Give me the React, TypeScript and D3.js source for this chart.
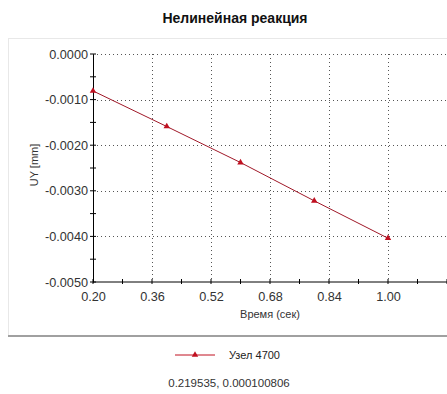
import React, { useEffect, useRef } from "react";
import * as d3 from "d3";

const times = [0.2, 0.4, 0.6, 0.8, 1.0];
const uy = [-0.00081, -0.00159, -0.00238, -0.00322, -0.00404];
const xTicks = [0.2, 0.36, 0.52, 0.68, 0.84, 1.0];
const yTicks = [0, -0.001, -0.002, -0.003, -0.004, -0.005];
const seriesName = "Узел 4700";
const cursorText = "0.219535, 0.000100806";

const W = 447;
const H = 394;

export default function App() {
  const ref = useRef<SVGSVGElement>(null);

  useEffect(() => {
    const svg = d3.select(ref.current);
    svg.selectAll("*").remove();
    const font = "'Liberation Sans', Arial, sans-serif";
    const fmt4 = (d: number) => d3.format(".4f")(d).replace("\u2212", "-");

    svg.append("rect").attr("width", W).attr("height", H).attr("fill", "#fff");

    // panel
    svg.append("rect").attr("x", 8.5).attr("y", 38.5).attr("width", W).attr("height", 297)
      .attr("fill", "#fff").attr("stroke", "#e8e8e8");
    svg.append("line").attr("x1", 8).attr("x2", W).attr("y1", 336).attr("y2", 336)
      .attr("stroke", "#a0a0a0").attr("stroke-width", 2);

    svg.append("text").attr("x", 235).attr("y", 23).attr("text-anchor", "middle")
      .style("font-family", font).style("font-size", "14px").style("font-weight", "bold")
      .attr("fill", "#111").text("Нелинейная реакция");

    const x = d3.scaleLinear().domain([0.2, 1.0]).range([93, 388]);
    const y = d3.scaleLinear().domain([-0.005, 0]).range([282, 54]);

    const g = svg.append("g");

    // grid
    const xGrid = [...xTicks, 1.16];
    g.selectAll(".vg").data(xGrid.slice(1)).join("line")
      .attr("x1", d => Math.round(x(d)) + 0.5).attr("x2", d => Math.round(x(d)) + 0.5)
      .attr("y1", y(0)).attr("y2", y(-0.005))
      .attr("stroke", "#555").attr("stroke-dasharray", "1,3");
    g.selectAll(".hg").data(yTicks.slice(0, 5)).join("line")
      .attr("x1", x(0.2)).attr("x2", W)
      .attr("y1", d => Math.round(y(d)) + 0.5).attr("y2", d => Math.round(y(d)) + 0.5)
      .attr("stroke", "#555").attr("stroke-dasharray", "1,3");

    // axes
    const xAxis = g.append("g").attr("transform", `translate(0,${y(-0.005)})`)
      .call(d3.axisBottom(x).tickValues(xTicks).tickFormat(d3.format(".2f")).tickSize(0).tickPadding(10));
    xAxis.select(".domain").remove();
    g.append("line").attr("x1", x(0.2)).attr("x2", W).attr("y1", y(-0.005)).attr("y2", y(-0.005))
      .attr("stroke", "#000");
    const xMinor = d3.range(0, 13).map(i => 0.2 + i * 0.08);
    g.selectAll(".xt").data(xMinor).join("line")
      .attr("x1", d => x(d)).attr("x2", d => x(d))
      .attr("y1", y(-0.005) - 3).attr("y2", y(-0.005) + 2).attr("stroke", "#000");

    const yAxis = g.append("g").attr("transform", `translate(${x(0.2)},0)`)
      .call(d3.axisLeft(y).tickValues(yTicks).tickFormat(fmt4).tickSize(0).tickPadding(5));
    yAxis.select(".domain").attr("stroke", "#000");
    const yMinor = d3.range(0, 11).map(i => -i * 0.0005);
    g.selectAll(".yt").data(yMinor).join("line")
      .attr("x1", x(0.2) - 3).attr("x2", x(0.2) + 3)
      .attr("y1", d => y(d)).attr("y2", d => y(d)).attr("stroke", "#000");

    g.selectAll(".tick text").style("font-family", font).style("font-size", "12.7px").attr("fill", "#333");

    svg.append("text").attr("transform", `translate(38,165) rotate(-90)`).attr("text-anchor", "middle")
      .style("font-family", font).style("font-size", "11px").attr("fill", "#333").text("UY [mm]");
    svg.append("text").attr("x", 270).attr("y", 318).attr("text-anchor", "middle")
      .style("font-family", font).style("font-size", "11px").attr("fill", "#333").text("Время (сек)");

    // series
    const pts = times.map((t, i) => [t, uy[i]] as [number, number]);
    g.append("path").datum(pts)
      .attr("d", d3.line<[number, number]>().x(d => x(d[0])).y(d => y(d[1])))
      .attr("fill", "none").attr("stroke", "#a01828").attr("stroke-width", 1);
    const tri = d3.symbol().type(d3.symbolTriangle).size(18);
    g.selectAll(".m").data(pts).join("path")
      .attr("transform", d => `translate(${x(d[0])},${y(d[1])})`)
      .attr("d", tri()).attr("fill", "#c01020");

    // legend
    svg.append("line").attr("x1", 175).attr("x2", 215).attr("y1", 355).attr("y2", 355)
      .attr("stroke", "#c01020");
    svg.append("path").attr("transform", "translate(195,355)").attr("d", tri()).attr("fill", "#c01020");
    svg.append("text").attr("x", 229).attr("y", 359)
      .style("font-family", font).style("font-size", "11px").attr("fill", "#222").text(seriesName);
    svg.append("text").attr("x", 229).attr("y", 387).attr("text-anchor", "middle")
      .style("font-family", font).style("font-size", "11.5px").attr("fill", "#333").text(cursorText);
  }, []);

  return (
    <svg ref={ref} width={W} height={H}
      style={{ position: "absolute", left: 0, top: 0, display: "block" }} />
  );
}
